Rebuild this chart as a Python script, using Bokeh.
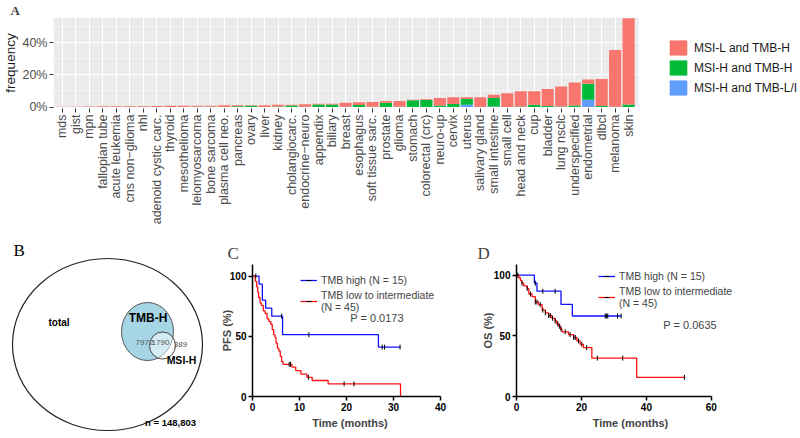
import math
from bokeh.plotting import figure
from bokeh.models import (ColumnDataSource, Range1d, FixedTicker, BoxAnnotation,
                          Legend, LegendItem, Label)
from bokeh.layouts import column, row
from bokeh.embed import file_html
from bokeh.resources import INLINE

# ---------------- Panel A data ----------------
categories = ["mds", "gist", "mpn", "fallopian tube", "acute leukemia", "cns non\u2212glioma", "nhl",
              "adenoid cystic carc.", "thyroid", "mesothelioma", "leiomyosarcoma", "bone sarcoma",
              "plasma cell neo.", "pancreas", "ovary", "liver", "kidney", "cholangiocarc.",
              "endocrine\u2212neuro", "appendix", "biliary", "breast", "esophagus", "soft tissue sarc.",
              "prostate", "glioma", "stomach", "colorectal (crc)", "neuro-up", "cervix", "uterus",
              "salivary gland", "small intestine", "small cell", "head and neck", "cup", "bladder",
              "lung nsclc", "underspecified", "endometrial", "dlbcl", "melanoma", "skin"]
msil_tmbh = [0.25, 0.25, 0.3, 0.45, 0.5, 0.4, 0.4, 0.6, 0.7, 0.7, 0.6, 0.6, 1.1, 0.6, 0.3, 1.1,
             1.0, 0.5, 1.6, 0.4, 0.5, 2.4, 1.6, 3.0, 1.2, 3.5, 0.3, 0.6, 4.6, 4.2, 1.1, 6.0, 2.0,
             8.6, 9.4, 8.4, 10.6, 12.5, 14.2, 2.6, 16.8, 35.2, 53.4]
msih_tmbh = [0, 0, 0, 0, 0, 0.2, 0.2, 0, 0.1, 0.1, 0.2, 0.2, 0, 0.5, 0.8, 0, 0.4, 1.0, 0.2, 1.6,
             1.6, 0.2, 1.3, 0.1, 2.6, 0.2, 4.2, 4.3, 1.0, 1.8, 3.6, 0, 5.2, 0, 0.4, 1.4, 0.6, 0.3,
             1.0, 9.8, 0.6, 0.2, 1.6]
msih_tmbl = [0, 0, 0, 0, 0, 0, 0, 0, 0, 0, 0, 0, 0, 0, 0, 0, 0, 0, 0, 0, 0, 0, 0, 0.1, 0, 0, 0,
             0, 0, 0.1, 1.4, 0, 0.4, 0, 0, 0, 0, 0, 0, 4.6, 0, 0, 0]
series_names = ["MSI-L and TMB-H", "MSI-H and TMB-H", "MSI-H and TMB-L/I"]
y_ticks_a = [0, 20, 40]
y_tick_labels_a = ["0%", "20%", "40%"]

# ---------------- Panel B data ----------------
venn_total_label = "n = 148,803"
venn_tmb_only = "7972"
venn_overlap = "1790"
venn_msi_only = "389"

# ---------------- Panel C data (PFS) ----------------
pfs_high_t = [0, 1.4, 2.1, 2.8, 4.1, 6.4, 26.8, 31.5]
pfs_high_s = [100, 93.3, 80.0, 73.3, 66.7, 51.3, 41.0, 41.0]
pfs_high_cens = [0.7, 6.2, 12.0, 27.6, 28.1, 31.4]
pfs_low_t = [0, 0.6, 0.9, 1.1, 1.3, 1.6, 1.9, 2.3, 2.7, 3.1, 3.5, 3.9, 4.2, 4.5, 4.8, 5.0, 5.3,
             5.6, 5.9, 6.2, 6.5, 8.4, 9.2, 10.3, 11.6, 12.7, 16.1, 31.5]
pfs_low_s = [100, 95.6, 91.1, 86.7, 82.2, 77.8, 75.6, 71.1, 68.9, 64.4, 62.2, 60.0, 55.6, 51.1,
             48.9, 44.4, 40.0, 37.8, 33.3, 28.9, 26.7, 24.4, 21.5, 18.6, 15.9, 13.3, 10.5, 0]
pfs_low_cens = [7.8, 8.1, 11.9, 19.5, 21.6]
pfs_p = "P = 0.0173"

# ---------------- Panel D data (OS) ----------------
os_high_t = [0, 5.5, 6.3, 13.7, 17.2, 32.3]
os_high_s = [100, 93.3, 86.7, 75.8, 66.3, 66.3]
os_high_cens = [5.8, 8.1, 11.9, 27.3, 27.7, 28.1, 31.1, 32.2]
os_low_t = [0, 0.7, 1.2, 1.7, 2.2, 3.3, 3.8, 4.8, 5.8, 6.8, 7.9, 8.9, 9.9, 10.9, 11.9, 12.4,
            13.0, 13.5, 14.0, 16.0, 17.6, 18.6, 19.6, 20.6, 23.2, 37.0, 52.0]
os_low_s = [100, 97.8, 95.6, 93.3, 91.1, 88.9, 84.4, 82.2, 77.8, 75.6, 71.1, 68.9, 66.7, 64.4,
            62.2, 60.0, 57.8, 55.6, 53.3, 51.0, 48.6, 45.8, 43.0, 40.3, 31.6, 15.8, 15.8]
os_low_cens = [0.4, 1.7, 3.3, 4.3, 5.8, 6.3, 7.3, 8.1, 8.9, 9.9, 10.4, 11.1, 11.9, 12.7, 13.3,
               13.7, 15.0, 16.5, 17.6, 18.1, 19.1, 20.1, 21.6, 24.9, 32.7, 51.7]
os_p = "P = 0.0635"
km_labels = ["TMB high (N = 15)", "TMB low to intermediate\n(N = 45)"]

SANS = "Liberation Sans"
SERIF = "Liberation Serif"
RED, GREEN, BLUE = "#F8766D", "#00BA38", "#619CFF"

# ================= Panel A =================
xpos = list(range(len(categories)))
src = ColumnDataSource(dict(x=xpos, blue=msih_tmbl, green=msih_tmbh, red=msil_tmbh))
pa = figure(width=800, height=238, x_range=Range1d(-0.66, 54.75), y_range=Range1d(-0.9, 55.5),
            output_backend="svg", toolbar_location=None,
            min_border_left=48, min_border_right=0, min_border_top=2, min_border_bottom=130,
            background_fill_color="white", border_fill_color="white", outline_line_color=None)
pa.add_layout(BoxAnnotation(right=42.74, fill_color="#EBEBEB", fill_alpha=1.0,
                            line_color=None, level="image"))
rs = pa.vbar_stack(["blue", "green", "red"], x="x", width=0.9, source=src,
                   color=[BLUE, GREEN, RED], line_color=None)
pa.xaxis.ticker = FixedTicker(ticks=xpos)
pa.xaxis.major_label_overrides = {i: c for i, c in zip(xpos, categories)}
pa.xgrid.ticker = FixedTicker(ticks=xpos)
pa.xgrid.grid_line_color = "white"
pa.xgrid.grid_line_width = 1.1
pa.yaxis.ticker = FixedTicker(ticks=y_ticks_a, minor_ticks=[10, 30, 50])
pa.ygrid.grid_line_color = "white"
pa.ygrid.grid_line_width = 1.1
pa.ygrid.minor_grid_line_color = "white"
pa.ygrid.minor_grid_line_width = 0.5
pa.yaxis.major_label_overrides = {t: l for t, l in zip(y_ticks_a, y_tick_labels_a)}
for ax in (pa.xaxis[0], pa.yaxis[0]):
    ax.axis_line_color = None
    ax.major_tick_line_color = "#333333"
    ax.major_tick_out = 4
    ax.major_tick_in = 0
    ax.minor_tick_line_color = None
    ax.major_label_text_font = SANS
    ax.major_label_text_color = "#4D4D4D"
    ax.major_label_standoff = 2
pa.xaxis.major_label_orientation = math.pi / 2
pa.xaxis.major_label_text_font_size = "12.5px"
pa.yaxis.major_label_text_font_size = "12.5px"
pa.yaxis.axis_label = "frequency"
pa.yaxis.axis_label_text_font = SANS
pa.yaxis.axis_label_text_font_style = "normal"
pa.yaxis.axis_label_text_font_size = "13.5px"
pa.yaxis.axis_label_text_color = "#1A1A1A"
pa.yaxis.axis_label_standoff = 1
pa.title.text = "A"
pa.title.text_font = SERIF
pa.title.text_font_style = "bold"
pa.title.text_font_size = "13px"
pa.title.align = "left"
pa.title.offset = -43
pa.title.standoff = 0
leg_a = Legend(items=[LegendItem(label=series_names[0], renderers=[rs[2]]),
                      LegendItem(label=series_names[1], renderers=[rs[1]]),
                      LegendItem(label=series_names[2], renderers=[rs[0]])],
               location=(614, 11), padding=0, margin=0, spacing=1,
               glyph_width=22, glyph_height=19, label_height=19, label_standoff=5,
               label_text_font=SANS, label_text_font_size="12px", label_text_color="#1A1A1A",
               border_line_color=None, background_fill_alpha=0)
pa.add_layout(leg_a)

# ================= Panel B =================
pb = figure(width=217, height=200, x_range=Range1d(0, 217), y_range=Range1d(200, 0),
            output_backend="svg", toolbar_location=None, min_border=0,
            frame_width=217, frame_height=200,
            x_axis_type=None, y_axis_type=None, outline_line_color=None)
pb.grid.visible = False
pb.ellipse(x=[107], y=[106], width=[190], height=[172], fill_color=None,
           line_color="#222222", line_width=1.2)
pb.ellipse(x=[147], y=[93], width=[52], height=[58], fill_color="#A6D6E6",
           line_color="#555555", line_width=1)
pb.ellipse(x=[162], y=[107], width=[26], height=[27], fill_color="white", fill_alpha=0.5,
           line_color="#444444", line_width=1)


def btxt(x, y, t, size, bold=True, color="black", align="center", font=SANS):
    pb.add_layout(Label(x=x, y=y, text=t, text_font=font, text_font_size=size,
                        text_font_style="bold" if bold else "normal", text_color=color,
                        text_align=align, text_baseline="middle"))


btxt(48, 84, "total", "10px", align="left")
btxt(147.5, 79, "TMB-H", "12px")
btxt(144, 104, venn_tmb_only, "8px", bold=False, color="#555555")
btxt(160, 104, venn_overlap, "8px", bold=False, color="#555555")
btxt(180, 106, venn_msi_only, "8px", bold=False, color="#555555")
btxt(181, 121, "MSI-H", "10.5px")
btxt(170, 184, venn_total_label, "9.5px")
btxt(13, 12, "B", "17px", bold=False, align="left", font=SERIF)


# ================= KM panels =================
def on_curve(ts, ss, cens):
    out = []
    for c in cens:
        v = ss[0]
        for t, s in zip(ts, ss):
            if t <= c:
                v = s
        out.append(v)
    return out


def km_fig(width, xmax, xend, xticks, ytop, mb, ylabel, ylab_standoff, letter, letter_off,
           p_text, p_xy, hi, lo, leg_loc):
    p = figure(width=width, height=200, x_range=Range1d(0, xend), y_range=Range1d(0, ytop),
               output_backend="svg", toolbar_location=None,
               min_border_left=mb[0], min_border_right=mb[1], min_border_top=mb[2],
               min_border_bottom=mb[3], outline_line_color=None)
    p.grid.visible = False
    p.xaxis.ticker = FixedTicker(ticks=xticks)
    p.xaxis.bounds = (0, xmax)
    p.yaxis.ticker = FixedTicker(ticks=[0, 50, 100])
    for ax in (p.xaxis[0], p.yaxis[0]):
        ax.axis_line_color = "black"
        ax.axis_line_width = 1.5
        ax.major_tick_line_color = "black"
        ax.major_tick_line_width = 1.5
        ax.major_tick_out = 4
        ax.major_tick_in = 0
        ax.minor_tick_line_color = None
        ax.major_label_text_font = SANS
        ax.major_label_text_font_style = "bold"
        ax.major_label_text_font_size = "10px"
        ax.major_label_text_color = "black"
        ax.major_label_standoff = 2
        ax.axis_label_text_font = SANS
        ax.axis_label_text_font_style = "bold"
        ax.axis_label_text_font_size = "11px"
    p.xaxis.axis_label = "Time (months)"
    p.xaxis.axis_label_standoff = 3
    p.yaxis.axis_label = ylabel
    p.yaxis.axis_label_standoff = ylab_standoff
    ht, hs, hc = hi
    lt, ls, lc = lo
    r_hi = p.step(ht, hs, mode="after", line_color="#1010FF", line_width=1.3)
    r_lo = p.step(lt, ls, mode="after", line_color="#FF1010", line_width=1.3)
    c_hi = p.scatter(hc, on_curve(ht, hs, hc), marker="dash", angle=math.pi / 2, size=5,
                     line_color="black", line_width=1)
    c_lo = p.scatter(lc, on_curve(lt, ls, lc), marker="dash", angle=math.pi / 2, size=5,
                     line_color="black", line_width=1)
    leg = Legend(items=[LegendItem(label=km_labels[0], renderers=[r_hi, c_hi]),
                        LegendItem(label=km_labels[1], renderers=[r_lo, c_lo])],
                 location=leg_loc, padding=0, margin=0, spacing=3,
                 glyph_width=17, glyph_height=12, label_height=12, label_standoff=4,
                 label_text_font=SANS, label_text_font_size="10.5px",
                 border_line_color=None, background_fill_alpha=0)
    p.add_layout(leg)
    p.add_layout(Label(x=p_xy[0], y=p_xy[1], text=p_text, text_font=SANS,
                       text_font_size="11px", text_baseline="middle"))
    p.title.text = letter
    p.title.text_font = SERIF
    p.title.text_font_style = "normal"
    p.title.text_font_size = "17px"
    p.title.align = "left"
    p.title.offset = letter_off
    p.title.standoff = 0
    p.title.vertical_align = "top"
    return p


pc = km_fig(261, 40, 41.5, [0, 10, 20, 30, 40], 109.6, (35, 31, 26, 40), "PFS (%)", -6,
            "C", -25, pfs_p, (20.8, 65),
            (pfs_high_t, pfs_high_s, pfs_high_cens), (pfs_low_t, pfs_low_s, pfs_low_cens),
            (48, 83))
pd_ = km_fig(322, 60, 70.2, [0, 20, 40, 60], 108.7, (38, 56, 21, 42), "OS (%)", -3,
             "D", -39, os_p, (45.2, 59),
             (os_high_t, os_high_s, os_high_cens), (os_low_t, os_low_s, os_low_cens),
             (82, 87))

layout = column(pa, row(column(pb), pc, pd_))
open("out.html", "w").write(file_html(layout, INLINE))
